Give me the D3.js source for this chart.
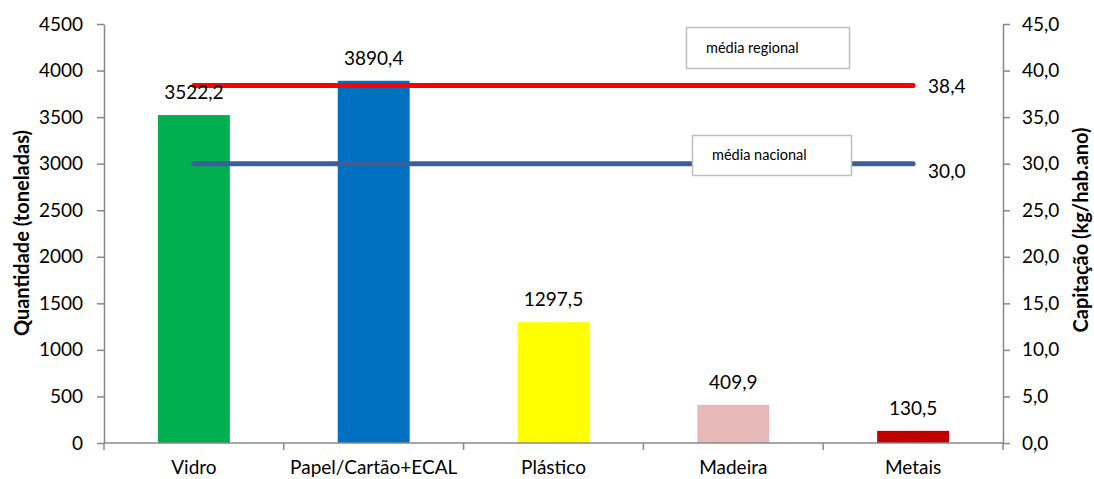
<!DOCTYPE html>
<html>
<head>
<meta charset="utf-8">
<script src="https://cdn.jsdelivr.net/npm/d3@7"></script>
<style>
  html, body { margin: 0; padding: 0; background: #fff; }
  svg { display: block; font-family: Lato, "Open Sans", sans-serif; }
</style>
</head>
<body>
<svg id="chart" width="1094" height="479"></svg>
<script>
// Recolha selectiva por fileira
const categories = ["Vidro", "Papel/Cartão+ECAL", "Plástico", "Madeira", "Metais"];
const quantities = [3522.2, 3890.4, 1297.5, 409.9, 130.5];
const barColors = ["#00B050", "#0070C0", "#FFFF00", "#E6B9B8", "#C00000"];

// Capitação de referência (kg/hab.ano)
const refNames = ["média regional", "média nacional"];
const refValues = [38.4, 30.0];
const refColors = ["#FF0000", "#3D5F96"];

const leftTicks = [0, 500, 1000, 1500, 2000, 2500, 3000, 3500, 4000, 4500];
const rightTicks = [0, 5, 10, 15, 20, 25, 30, 35, 40, 45];

const margin = { left: 104, right: 91, top: 24, bottom: 36 };
const W = 1094, H = 479;
const svg = d3.select("#chart");
const plotW = W - margin.left - margin.right;
const plotH = H - margin.top - margin.bottom;

const x = d3.scaleBand().domain(categories).range([margin.left, margin.left + plotW]).padding(0);
const yL = d3.scaleLinear().domain([0, 4500]).range([margin.top + plotH, margin.top]);
const yR = d3.scaleLinear().domain([0, 45]).range([margin.top + plotH, margin.top]);

const axisColor = "#888888";
const textSize = 19;
const fmt1 = v => d3.format(".1f")(v).replace(".", ",");

// Bars
const barW = x.bandwidth() * 0.4;
svg.append("g").selectAll("rect")
  .data(categories)
  .join("rect")
  .attr("x", (c) => x(c) + (x.bandwidth() - barW) / 2)
  .attr("width", barW)
  .attr("y", (c, i) => yL(quantities[i]))
  .attr("height", (c, i) => yL(0) - yL(quantities[i]))
  .attr("fill", (c, i) => barColors[i]);

// Reference lines from first to last category centre
const x0 = x(categories[0]) + x.bandwidth() / 2;
const x1 = x(categories[categories.length - 1]) + x.bandwidth() / 2;
svg.append("g").selectAll("line")
  .data(refValues)
  .join("line")
  .attr("x1", x0).attr("x2", x1)
  .attr("y1", d => yR(d)).attr("y2", d => yR(d))
  .attr("stroke", (d, i) => refColors[i])
  .attr("stroke-width", 5)
  .attr("stroke-linecap", "round");

// Value labels for the reference lines
svg.append("g").selectAll("text")
  .data(refValues)
  .join("text")
  .attr("x", x1 + 15)
  .attr("y", (d, i) => yR(d) + (i === 0 ? 8 : 14))
  .attr("font-size", textSize)
  .attr("fill", "#000")
  .text(d => fmt1(d));

// Bar value labels
svg.append("g").selectAll("text")
  .data(categories)
  .join("text")
  .attr("x", c => x(c) + x.bandwidth() / 2)
  .attr("y", (c, i) => yL(quantities[i]) - 16)
  .attr("text-anchor", "middle")
  .attr("font-size", textSize)
  .attr("fill", "#000")
  .text((c, i) => fmt1(quantities[i]));

// Name boxes for the reference lines
const boxes = [
  { x: 686, y: 27, w: 163, h: 41, tx: 706 },
  { x: 692, y: 135, w: 159, h: 40, tx: 712 }
];
const boxG = svg.append("g").selectAll("g")
  .data(refNames)
  .join("g");
boxG.append("rect")
  .attr("x", (d, i) => boxes[i].x + 0.5)
  .attr("y", (d, i) => boxes[i].y + 0.5)
  .attr("width", (d, i) => boxes[i].w)
  .attr("height", (d, i) => boxes[i].h)
  .attr("fill", "#fff")
  .attr("stroke", "#BFBFBF")
  .attr("stroke-width", 1.5);
boxG.append("text")
  .attr("x", (d, i) => boxes[i].tx)
  .attr("y", (d, i) => boxes[i].y + boxes[i].h / 2 + 5)
  .attr("font-size", 14.5)
  .attr("fill", "#000")
  .text(d => d);

// Axes
const styleAxis = g => {
  g.select(".domain").attr("stroke", axisColor).attr("stroke-width", 1.5);
  g.selectAll(".tick line").attr("stroke", axisColor).attr("stroke-width", 1.5);
  g.selectAll(".tick text").attr("font-size", textSize).attr("fill", "#000")
    .attr("font-family", "Lato, 'Open Sans', sans-serif");
};

svg.append("g")
  .attr("transform", `translate(${margin.left},0)`)
  .call(d3.axisLeft(yL).tickValues(leftTicks).tickSize(7).tickSizeOuter(0).tickPadding(14).tickFormat(d3.format("d")))
  .call(styleAxis);

svg.append("g")
  .attr("transform", `translate(${margin.left + plotW},0)`)
  .call(d3.axisRight(yR).tickValues(rightTicks).tickSize(7).tickSizeOuter(0).tickPadding(12).tickFormat(fmt1))
  .call(styleAxis);

// Category axis with ticks on the band boundaries
const xAxis = svg.append("g")
  .attr("transform", `translate(0,${yL(0)})`)
  .call(d3.axisBottom(x).tickSize(0).tickSizeOuter(0).tickPadding(31))
  .call(styleAxis);
xAxis.select(".domain").attr("d", `M${margin.left},0H${margin.left + plotW}`);
xAxis.selectAll(".boundary")
  .data(categories.concat([null]))
  .join("line")
  .attr("class", "boundary")
  .attr("x1", (c, i) => margin.left + i * x.step())
  .attr("x2", (c, i) => margin.left + i * x.step())
  .attr("y1", 0).attr("y2", 7)
  .attr("stroke", axisColor).attr("stroke-width", 1.5);
xAxis.selectAll(".tick text").attr("dy", "0em");

// Axis titles
svg.append("text")
  .attr("transform", `translate(29,233) rotate(-90)`)
  .attr("text-anchor", "middle")
  .attr("font-size", 20)
  .attr("font-weight", "bold")
  .attr("fill", "#000")
  .text("Quantidade (toneladas)");

svg.append("text")
  .attr("transform", `translate(1088,230) rotate(-90)`)
  .attr("text-anchor", "middle")
  .attr("font-size", 20)
  .attr("font-weight", "bold")
  .attr("fill", "#000")
  .text("Capitação (kg/hab.ano)");
</script>
</body>
</html>
